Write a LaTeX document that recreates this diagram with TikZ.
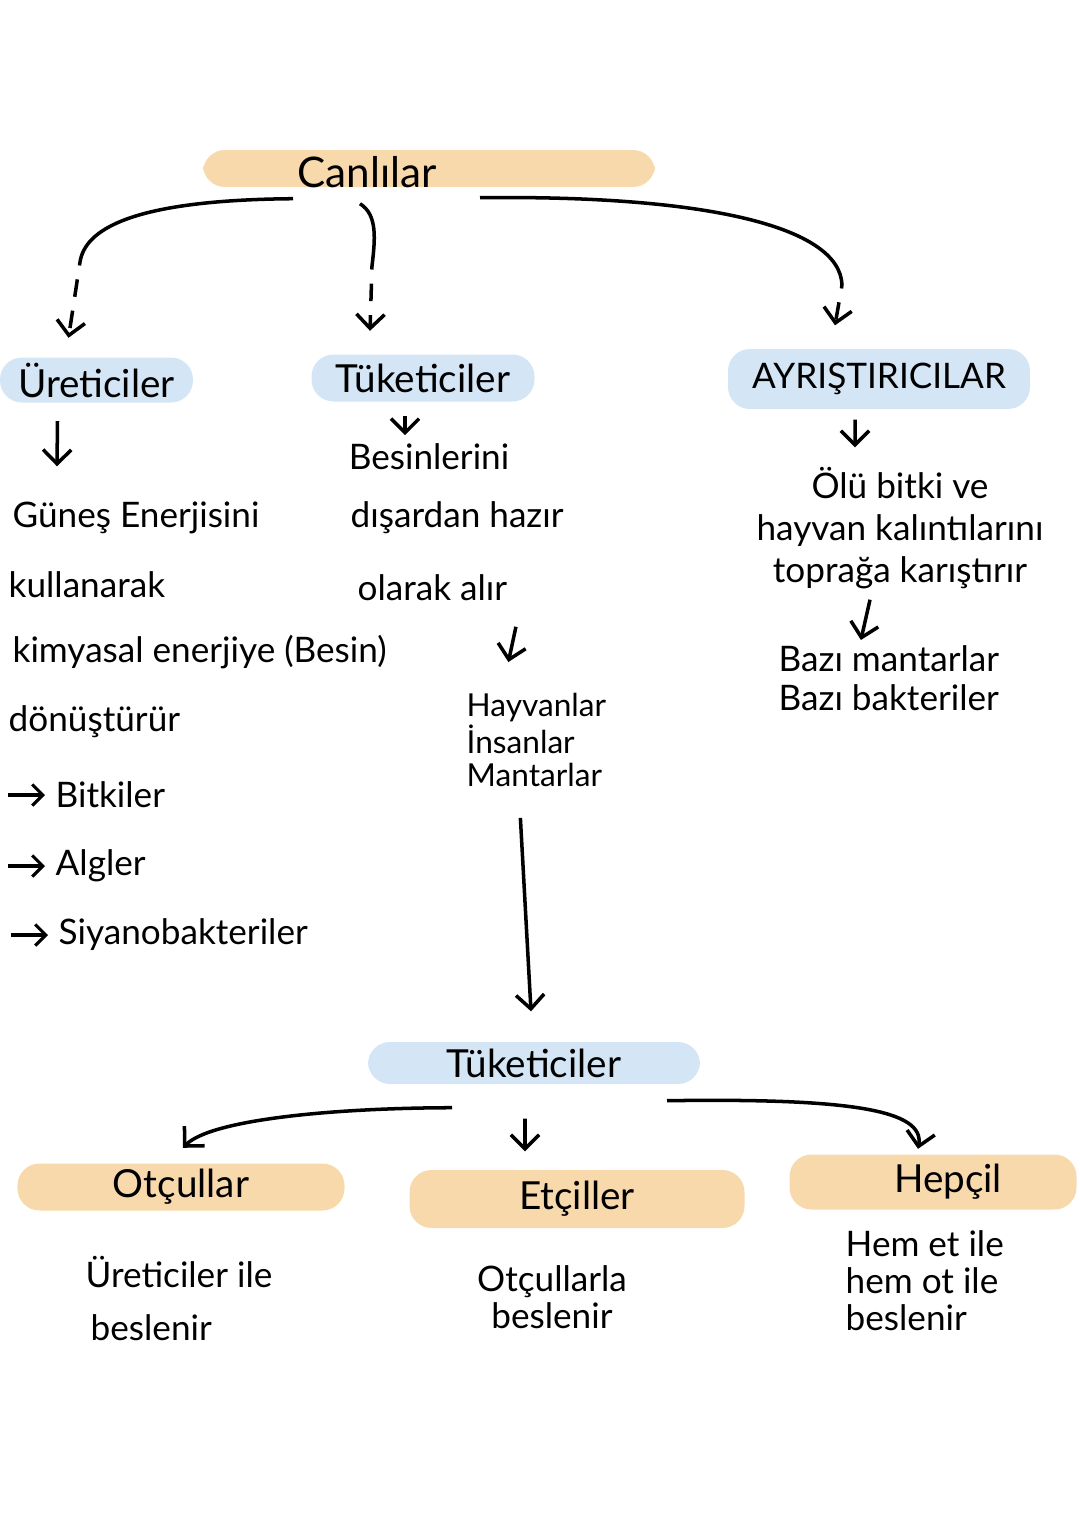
\documentclass[tikz,border=0pt]{standalone}
\usepackage{fontspec}
\setmainfont{Lato}
\usetikzlibrary{arrows.meta}
\definecolor{barorange}{HTML}{F8D9AC}
\definecolor{barblue}{HTML}{D4E5F6}

\begin{document}
\begin{tikzpicture}[
    bar/.style={rounded corners=0.22cm, inner sep=0pt, font=\fontsize{11}{13}\selectfont},
    obar/.style={bar, fill=barorange},
    bbar/.style={bar, fill=barblue},
    note/.style={inner sep=0pt, font=\fontsize{10}{12}\selectfont},
    link/.style={line width=1pt, -{Straight Barb[length=4pt,width=8pt]}},
    dlink/.style={link, dash pattern=on 5pt off 4pt, dash phase=4pt},
    tick/.style={line width=0.9pt, -{Straight Barb[length=3pt,width=6pt]}},
]
    \useasboundingbox (0,0) rectangle (10.8,-15.27);

    % Top bar
    \node[obar, minimum width=4.52cm, minimum height=0.37cm] (canlilar) at (4.29,-1.685) {};
    \node[bar, font=\fontsize{12}{14}\selectfont] (canlilartxt) at (3.67,-1.72) {Canlılar};

    % Second level
    \node[bbar, minimum width=1.93cm, minimum height=0.45cm] (ureticiler) at (0.965,-3.8) {Üreticiler};
    \node[bbar, minimum width=2.23cm, minimum height=0.47cm] (tuketiciler) at (4.23,-3.78) {Tüketiciler};
    \node[bbar, minimum width=3.02cm, minimum height=0.6cm, font=\fontsize{10}{12}\selectfont] (ayristiricilar) at (8.79,-3.79) {AYRIŞTIRICILAR};

    % Canlilar -> second level
    \coordinate (bendL) at (0.8,-2.62);
    \coordinate (bendM) at (3.72,-2.66);
    \coordinate (bendR) at (8.42,-2.85);
    \draw[line width=1pt] ([shift={(-1.36,-0.11)}]canlilar.south) .. controls (1.3,-2.0) and (0.85,-2.3) .. (bendL);
    \draw[dlink] (bendL) -- ([shift={(-0.28,0.19)}]ureticiler.north);
    \draw[line width=1pt] ([shift={(-0.69,-0.16)}]canlilar.south) .. controls (3.78,-2.15) and (3.75,-2.4) .. (bendM);
    \draw[dlink] (bendM) -- ([shift={(-0.53,0.23)}]tuketiciler.north);
    \draw[line width=1pt] ([shift={(0.51,-0.10)}]canlilar.south) .. controls (7.0,-1.95) and (8.4,-2.25) .. (bendR);
    \draw[dlink] (bendR) -- ([shift={(-0.44,0.23)}]ayristiricilar.north);

    % Ureticiler column
    \node[note, anchor=west] (gunes) at (0.12,-5.18) {Güneş Enerjisini};
    \node[note, anchor=west] (kullan) at (0.08,-5.85) {kullanarak};
    \node[note, anchor=west] (kimya) at (0.12,-6.52) {kimyasal enerjiye (Besin)};
    \node[note, anchor=west] (donus) at (0.08,-7.22) {dönüştürür};
    \node[note, anchor=west] (bitki) at (0.55,-7.95) {Bitkiler};
    \node[note, anchor=west] (alg) at (0.55,-8.66) {Algler};
    \node[note, anchor=west] (siyano) at (0.58,-9.35) {Siyanobakteriler};
    \draw[link] ([shift={(-0.39,-0.18)}]ureticiler.south) -- ([shift={(0.45,0.35)}]gunes.north west);
    \foreach \n in {bitki, alg, siyano}
        \draw[tick] ([xshift=-0.47cm]\n.west) -- ([xshift=-0.1cm]\n.west);

    % Tuketiciler column
    \node[note] (besin) at (4.29,-4.57) {Besinlerini};
    \node[note, anchor=west] (disar) at (3.5,-5.18) {dışardan hazır};
    \node[note, anchor=west] (olarak) at (3.57,-5.88) {olarak alır};
    \node[note, align=left, anchor=north west, font=\fontsize{9}{9.5}\selectfont] (hayvan) at (4.66,-6.92) {Hayvanlar\\İnsanlar\\Mantarlar};
    \draw[link] ([shift={(-0.18,-0.14)}]tuketiciler.south) -- ([shift={(-0.24,0.08)}]besin.north);
    \draw[link] ([shift={(0.08,-0.25)}]olarak.south east) -- ([shift={(-0.28,0.3)}]hayvan.north);

    % Ayristiricilar column
    \node[note, align=center, font=\fontsize{10}{12}\selectfont] (olu) at (9.0,-5.28) {Ölü bitki ve\\hayvan kalıntılarını\\toprağa karıştırır};
    \node[note, align=left, anchor=north west, font=\fontsize{10}{11}\selectfont] (bazi) at (7.78,-6.45) {Bazı mantarlar\\Bazı bakteriler};
    \draw[link] ([shift={(-0.24,-0.1)}]ayristiricilar.south) -- ([shift={(-0.45,0.19)}]olu.north);
    \draw[link] ([shift={(-0.3,-0.1)}]olu.south) -- ([shift={(-0.28,0.05)}]bazi.north);

    % Lower tree
    \node[bbar, minimum width=3.32cm, minimum height=0.42cm] (tuketici2) at (5.34,-10.63) {Tüketiciler};
    \node[obar, minimum width=3.27cm, minimum height=0.47cm] (otcul) at (1.81,-11.87) {Otçullar};
    \node[obar, minimum width=3.35cm, minimum height=0.58cm] (etcil) at (5.77,-11.99) {Etçiller};
    \node[obar, minimum width=2.87cm, minimum height=0.55cm, text width=2.87cm, align=center, inner xsep=0pt] (hepcil) at (9.33,-11.82) {\hspace*{0.3cm}Hepçil};
    \draw[link] ([shift={(-0.16,-0.3)}]hayvan.south) -- ([shift={(-0.03,0.3)}]tuketici2.north);
    \draw[link] ([shift={(-0.82,-0.23)}]tuketici2.south) .. controls (3.3,-11.08) and (2.1,-11.2) .. ([shift={(0.02,0.15)}]otcul.north);
    \draw[link] ([shift={(-0.09,-0.34)}]tuketici2.south) -- ([shift={(-0.52,0.18)}]etcil.north);
    \draw[link] ([shift={(1.33,-0.16)}]tuketici2.south) .. controls (8.5,-10.98) and (9.25,-11.1) .. ([shift={(-0.15,0.05)}]hepcil.north);

    % Lower notes
    \node[note, anchor=west] (uretile) at (0.85,-12.72) {Üreticiler ile};
    \node[note, anchor=west] (uretbes) at (0.9,-13.28) {beslenir};
    \node[note, align=center, font=\fontsize{10}{10.5}\selectfont] (otcbes) at (5.52,-12.97) {Otçullarla\\beslenir};
    \node[note, align=left, anchor=north west, font=\fontsize{10}{10.5}\selectfont] (hembes) at (8.45,-12.3) {Hem et ile\\hem ot ile\\beslenir};
\end{tikzpicture}
\end{document}
